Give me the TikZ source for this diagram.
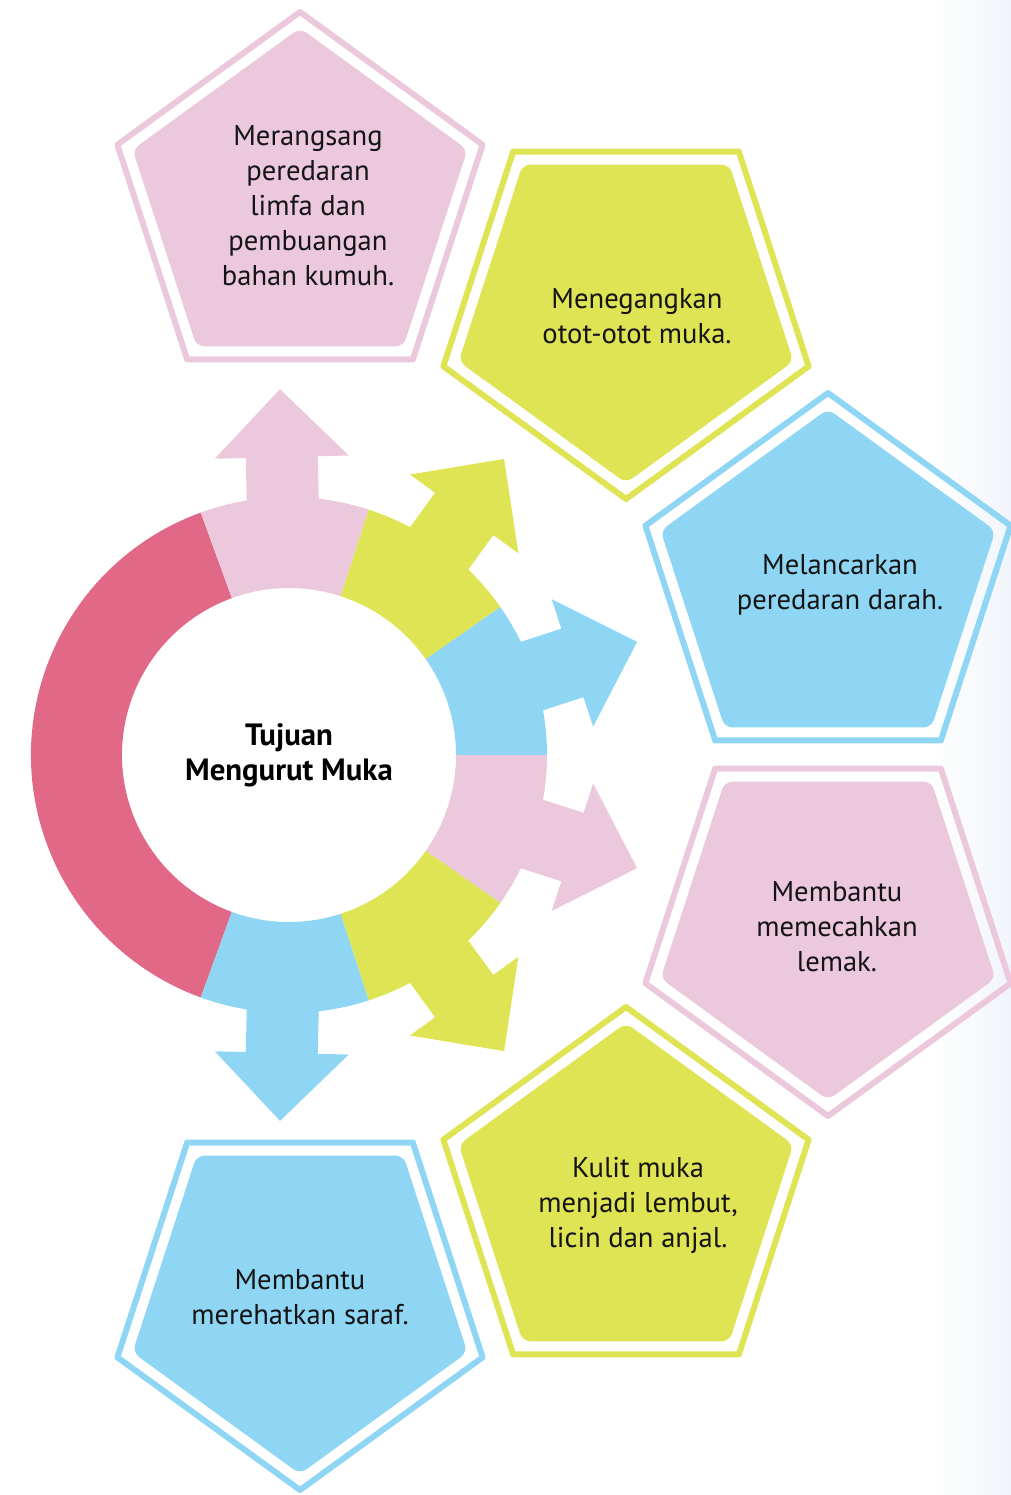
\documentclass[tikz,border=0pt]{standalone}
\usepackage{fontspec}
\setmainfont{PT Sans}
\definecolor{rosa}{RGB}{236,200,221}
\definecolor{limau}{RGB}{223,228,84}
\definecolor{langit}{RGB}{143,214,245}
\definecolor{merah}{RGB}{226,104,136}
\definecolor{kabus}{RGB}{241,245,250}
\tikzset{
  teks/.style={align=center,font=\fontsize{14.3}{17.5}\selectfont,text=black!92},
  tajuk/.style={align=center,font=\fontsize{15.4}{17.5}\selectfont\bfseries},
  bingkai/.style={draw=#1,line width=3pt,line join=round},
  isian/.style={fill=#1,rounded corners=4pt},
}
\begin{document}
\begin{tikzpicture}[x=.5pt,y=.5pt]
  \useasboundingbox (0,0) rectangle (1011,-1495);
  \shade[left color=white,right color=kabus] (930,0) rectangle (1011,-1495);
  \coordinate (o) at (289,-755);
  \foreach \a/\c in {91.4/rosa,54/limau,18/langit,-18/rosa,-54/limau,-91.4/langit}
    \fill[\c,shift={(o)},rotate=\a] (200,-36) -- (298,-36) -- (298,-67) -- (366,0)
      -- (298,67) -- (298,36) -- (200,36) -- cycle;
  \foreach \p/\q/\c in {110/250/merah,72/110/rosa,35/72/limau,0/35/langit,-35/0/rosa,-72/-35/limau,-110/-72/langit}
    \fill[\c,shift={(o)}] (\p:258) arc[start angle=\p,end angle=\q,radius=258]
      -- (\q:167) arc[start angle=\q,end angle=\p,radius=167] -- cycle;
  \node[tajuk] (tujuan) at (o) {Tujuan\\Mengurut Muka};
  \foreach \x/\y/\r/\c in {300/204/90/rosa,626/307/-90/limau,828/585/90/langit,828/924/-90/rosa,626/1199/90/limau,300/1298/-90/langit} {
    \draw[bingkai=\c,shift={(\x,-\y)},rotate=\r] (0:192) -- (72:192) -- (144:192) -- (216:192) -- (288:192) -- cycle;
    \fill[isian=\c,shift={(\x,-\y)},rotate=\r] (0:176) -- (72:176) -- (144:176) -- (216:176) -- (288:176) -- cycle;
  }
  \node[teks] (limfa) at (308,-206) {Merangsang\\peredaran\\limfa dan\\pembuangan\\bahan kumuh.};
  \node[teks] (otot) at (637,-316) {Menegangkan\\otot-otot muka.};
  \node[teks] (darah) at (840,-585) {Melancarkan\\peredaran darah.};
  \node[teks] (lemak) at (837,-927) {Membantu\\memecahkan\\lemak.};
  \node[teks] (kulit) at (638,-1205) {Kulit muka\\menjadi lembut,\\licin dan anjal.};
  \node[teks] (saraf) at (300,-1297) {Membantu\\merehatkan saraf.};
\end{tikzpicture}
\end{document}
